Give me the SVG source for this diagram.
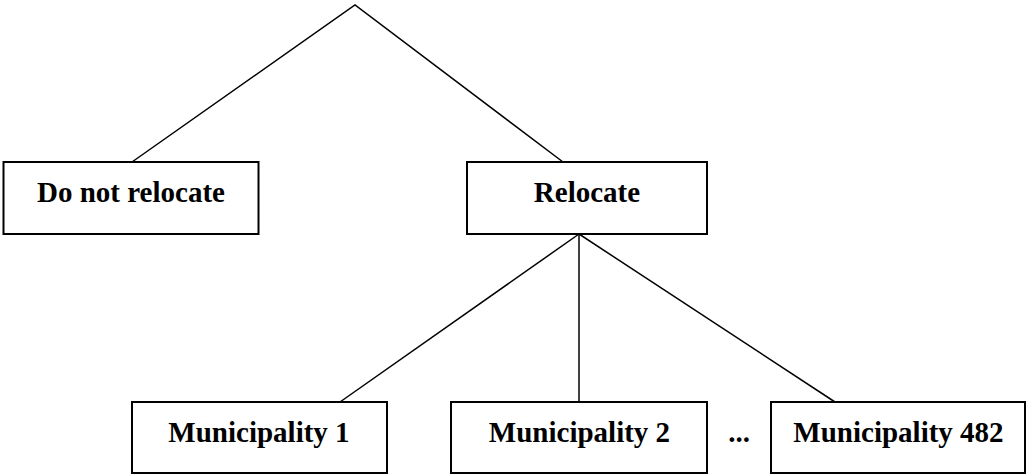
<svg xmlns="http://www.w3.org/2000/svg" width="1027" height="474" viewBox="0 0 1027 474">
<style>
.box{fill:#ffffff;stroke:#000000;stroke-width:2}
.lbl{font-family:"Liberation Serif","Times New Roman",serif;font-weight:bold;font-size:29px;fill:#000000;text-anchor:middle}
.con{stroke:#000000;stroke-width:1.5;fill:none}
</style>
<rect width="1027" height="474" fill="#ffffff"/>
<g id="connectors">
<polyline class="con" points="132,162 355,5 563,162"/>
<line class="con" x1="579" y1="234" x2="340" y2="402"/>
<line class="con" x1="579" y1="234" x2="579" y2="402"/>
<line class="con" x1="579" y1="234" x2="835" y2="402"/>
</g>
<g id="node-do-not-relocate">
<rect class="box" x="3.5" y="162" width="255" height="72"/>
<text class="lbl" x="131" y="202">Do not relocate</text>
</g>
<g id="node-relocate">
<rect class="box" x="467" y="162" width="240" height="72"/>
<text class="lbl" x="587" y="202">Relocate</text>
</g>
<g id="node-municipality-1">
<rect class="box" x="132" y="402" width="255" height="71"/>
<text class="lbl" x="259" y="442">Municipality 1</text>
</g>
<g id="node-municipality-2">
<rect class="box" x="451" y="402" width="256" height="71"/>
<text class="lbl" x="579.5" y="442">Municipality 2</text>
</g>
<g id="ellipsis">
<text class="lbl" x="739" y="442">...</text>
</g>
<g id="node-municipality-482">
<rect class="box" x="771" y="402" width="254" height="71"/>
<text class="lbl" x="898.5" y="442">Municipality 482</text>
</g>
</svg>
